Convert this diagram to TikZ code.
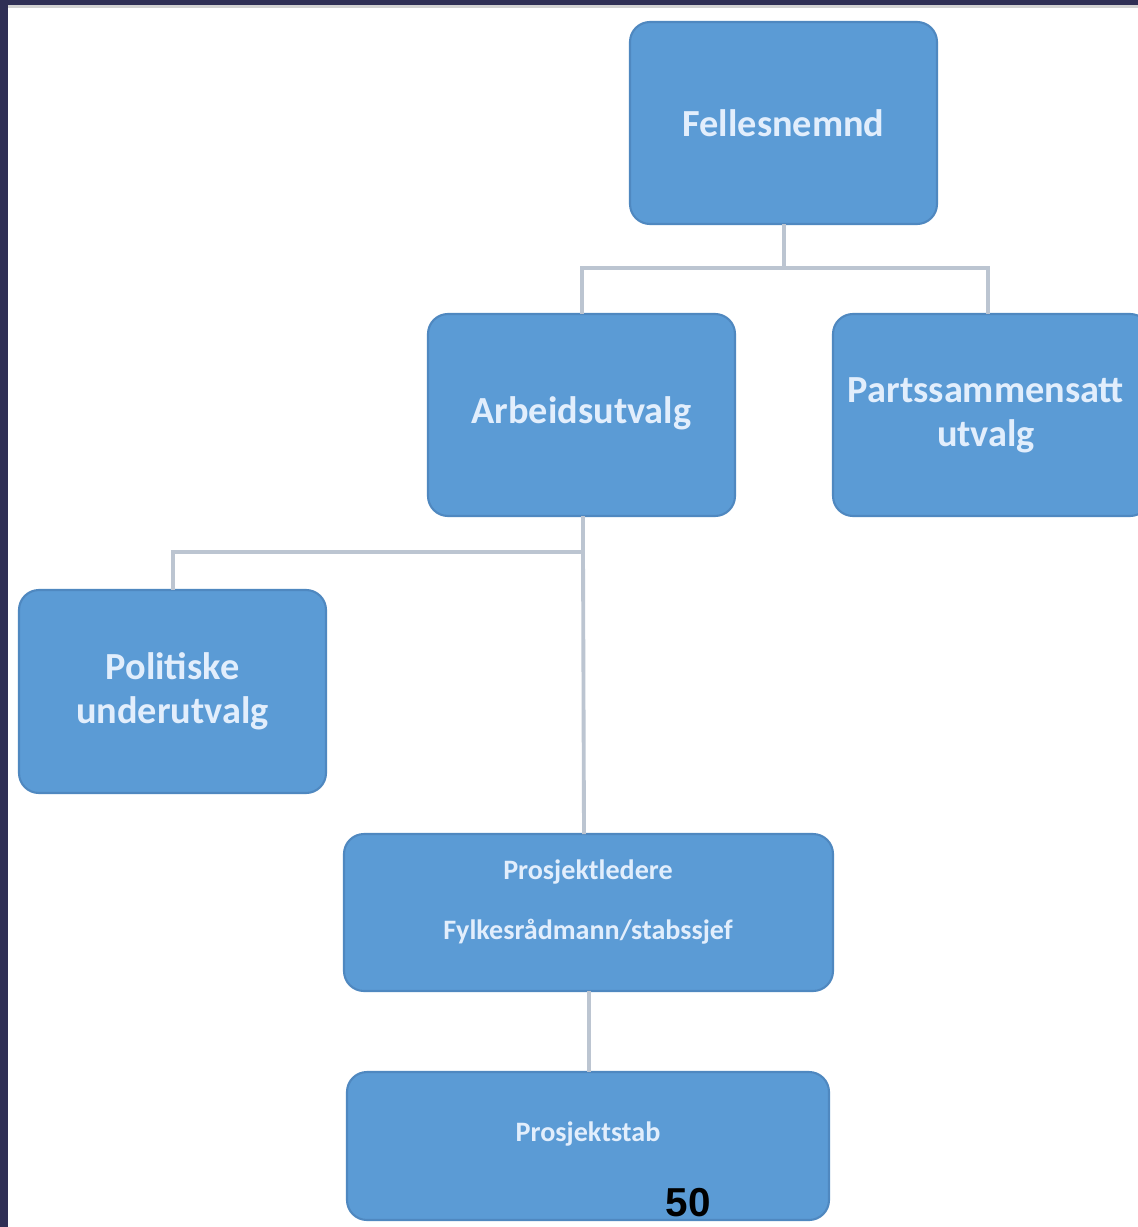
\documentclass[tikz,border=0pt]{standalone}
\usepackage{fontspec}
\setmainfont{Carlito}
\newfontfamily\numfont{Liberation Sans}
\definecolor{boxfill}{HTML}{5B9BD5}
\definecolor{boxedge}{HTML}{4F88C0}
\definecolor{linecol}{HTML}{BCC5D1}
\definecolor{txtcol}{HTML}{E2EEFC}
\definecolor{navy}{HTML}{2F2F55}
\begin{document}
\begin{tikzpicture}[x=0.02cm,y=-0.02cm,
  orgbox/.style={draw=boxedge,line width=1.2pt,fill=boxfill,rounded corners=0.4cm},
  bigtxt/.style={text=txtcol,align=center,font=\fontsize{21.8}{25}\selectfont\bfseries},
  smalltxt/.style={text=txtcol,font=\fontsize{16}{19}\selectfont\bfseries},
  conn/.style={draw=linecol,line width=2.2pt}]
\useasboundingbox (0,0) rectangle (1138,1227);
\fill[white] (0,0) rectangle (1138,1227);
% frame
\fill[navy] (0,0) rectangle (1138,5);
\fill[gray!35] (8,5) rectangle (1138,8);
\fill[navy] (0,0) rectangle (8,1227);
% boxes
\path[orgbox] (630,22) rectangle (937,224);
\node[bigtxt] (fn) at (783.5,123) {Fellesnemnd};
\path[orgbox] (428,314) rectangle (735,516);
\node[bigtxt] (au) at (581.5,413) {Arbeidsutvalg};
\path[orgbox] (833,314) rectangle (1150,516);
\node[bigtxt] (pu) at (986,415) {Partssammensatt\\[0pt]utvalg};
\path[orgbox] (19,590) rectangle (326,793);
\node[bigtxt] (po) at (172.5,691) {Politiske\\[0pt]underutvalg};
\path[orgbox] (344,834) rectangle (833,991);
\node[smalltxt] (pl) at (588,872) {Prosjektledere};
\node[smalltxt] (fy) at (588,932) {Fylkesrådmann/stabssjef};
\path[orgbox] (347,1072) rectangle (829,1220);
\node[smalltxt] (ps) at (588,1134) {Prosjektstab};
% anchor coordinates
\coordinate (fnB) at (784,224);
\coordinate (auT) at (582,314);
\coordinate (auB) at (583,516);
\coordinate (puT) at (988,314);
\coordinate (poT) at (173,590);
\coordinate (plT) at (584,834);
\coordinate (plB) at (589,991);
\coordinate (psT) at (589,1072);
% connectors
\draw[conn] (fnB) -- (784,268) -| (auT);
\draw[conn] (784,268) -| (puT);
\draw[conn] (auB) -- (583,552) -| (poT);
\draw[conn] (583,552) -- (plT);
\draw[conn] (plB) -- (psT);
% page number
\node[font=\numfont\fontsize{23}{28}\selectfont\bfseries,text=black] (num) at (688,1203) {50};
\end{tikzpicture}
\end{document}
